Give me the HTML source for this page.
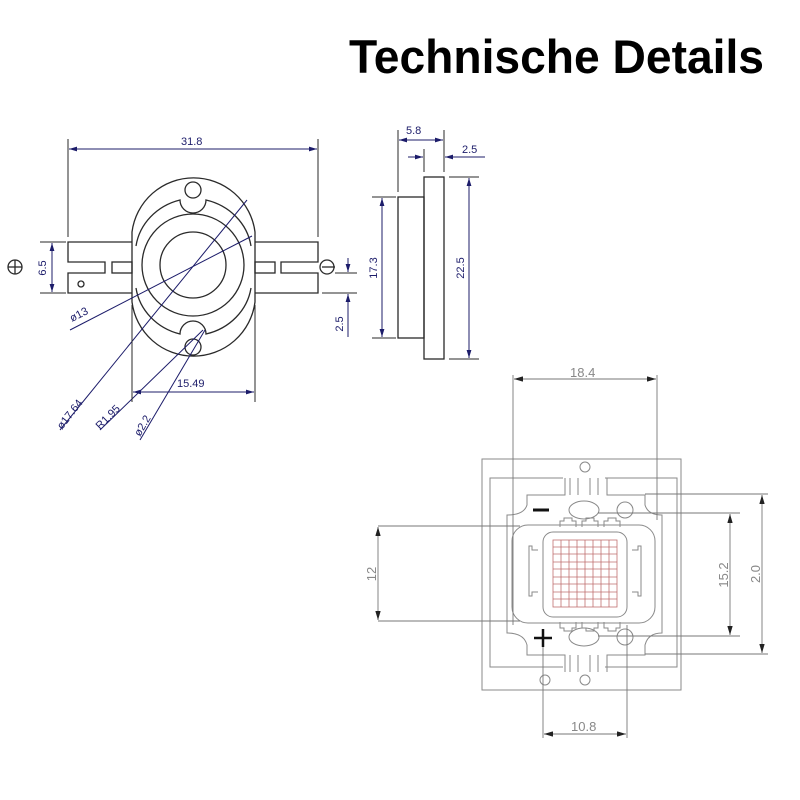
<!DOCTYPE html>
<html><head><meta charset="utf-8"><style>
html,body{margin:0;padding:0;background:#fff;width:800px;height:800px;overflow:hidden}
svg{display:block}
</style></head><body>
<svg width="800" height="800" viewBox="0 0 800 800" xmlns="http://www.w3.org/2000/svg" font-family="Liberation Sans, sans-serif">
<defs>
<marker id="a" viewBox="0 0 10 6" refX="10" refY="3" markerWidth="8" markerHeight="5" orient="auto-start-reverse"><path d="M0,0 L10,3 L0,6 Z" fill="#1c1c6a"/></marker>
<marker id="b" viewBox="0 0 10 6" refX="10" refY="3" markerWidth="11" markerHeight="6" orient="auto-start-reverse"><path d="M0,0 L10,3 L0,6 Z" fill="#222"/></marker>
</defs>
<text x="349" y="73" font-size="47" font-weight="bold" textLength="415" lengthAdjust="spacingAndGlyphs">Technische Details</text>

<g fill="none" stroke="#2a2a2a" stroke-width="1.3">
<path d="M132,302 L132,232 A62,62 0 0 1 255,232 L255,302 A62,62 0 0 1 132,302 Z"/>
<path d="M136,246 A60,56 0 0 1 180,200 A13,13 0 0 0 206,200 A60,56 0 0 1 251,246"/>
<path d="M136,288 A60,56 0 0 0 180,334 A13,13 0 0 1 206,334 A60,56 0 0 0 251,288"/>
<circle cx="193" cy="190" r="8"/>
<circle cx="193" cy="347" r="8"/>
<circle cx="193" cy="265" r="51"/>
<circle cx="193" cy="265" r="33"/>
<path d="M132,242 L68,242 L68,262 L105,262 L105,273 L68,273 L68,293 L132,293"/>
<rect x="112" y="262" width="20" height="11"/>
<circle cx="81" cy="284" r="3"/>
<path d="M255,242 L318,242 L318,262 L281,262 L281,273 L318,273 L318,293 L255,293"/>
<rect x="255" y="262" width="20" height="11"/>
<circle cx="327" cy="267" r="7"/>
<line x1="322" y1="267" x2="335" y2="267"/>
<circle cx="15" cy="267" r="7"/><line x1="8" y1="267" x2="22" y2="267"/><line x1="15" y1="260" x2="15" y2="274"/>
<rect x="398" y="197" width="26" height="141"/>
<rect x="424" y="177" width="20" height="182"/>
</g>
<g fill="none" stroke="#1c1c6a" stroke-width="1">
<line x1="68" y1="139" x2="68" y2="237" stroke="#2a2a2a"/><line x1="318" y1="139" x2="318" y2="237" stroke="#2a2a2a"/>
<line x1="69" y1="149" x2="317" y2="149" marker-start="url(#a)" marker-end="url(#a)"/>
<line x1="40" y1="242" x2="66" y2="242" stroke="#2a2a2a"/><line x1="40" y1="293" x2="66" y2="293" stroke="#2a2a2a"/>
<line x1="52" y1="243" x2="52" y2="292" marker-start="url(#a)" marker-end="url(#a)"/>
<line x1="322" y1="293" x2="357" y2="293" stroke="#2a2a2a"/><line x1="335" y1="273" x2="357" y2="273" stroke="#2a2a2a"/>
<line x1="348" y1="258" x2="348" y2="272" marker-end="url(#a)"/><line x1="348" y1="337" x2="348" y2="294" marker-end="url(#a)"/>
<line x1="70" y1="330" x2="252" y2="236"/>
<line x1="60" y1="430" x2="247" y2="200"/>
<line x1="100" y1="430" x2="203" y2="330"/>
<line x1="140" y1="440" x2="205" y2="330"/>
<line x1="132" y1="305" x2="132" y2="402" stroke="#2a2a2a"/><line x1="255" y1="305" x2="255" y2="402" stroke="#2a2a2a"/>
<line x1="133" y1="392" x2="254" y2="392" marker-start="url(#a)" marker-end="url(#a)"/>
<line x1="398" y1="130" x2="398" y2="192" stroke="#2a2a2a"/><line x1="444" y1="130" x2="444" y2="172" stroke="#2a2a2a"/>
<line x1="399" y1="140" x2="443" y2="140" marker-start="url(#a)" marker-end="url(#a)"/>
<line x1="424" y1="149" x2="424" y2="172" stroke="#2a2a2a"/>
<line x1="408" y1="157" x2="423" y2="157" marker-end="url(#a)"/><line x1="485" y1="157" x2="445" y2="157" marker-end="url(#a)"/>
<line x1="372" y1="197" x2="396" y2="197" stroke="#2a2a2a"/><line x1="372" y1="338" x2="396" y2="338" stroke="#2a2a2a"/>
<line x1="382" y1="198" x2="382" y2="337" marker-start="url(#a)" marker-end="url(#a)"/>
<line x1="449" y1="177" x2="479" y2="177" stroke="#2a2a2a"/><line x1="449" y1="359" x2="479" y2="359" stroke="#2a2a2a"/>
<line x1="469" y1="178" x2="469" y2="358" marker-start="url(#a)" marker-end="url(#a)"/>
</g>
<g fill="#1c1c6a" font-size="11">
<text x="181" y="145">31.8</text>
<text x="406" y="134">5.8</text>
<text x="462" y="153">2.5</text>
<text x="46" y="268" transform="rotate(-90 46 268)" text-anchor="middle">6.5</text>
<text x="377" y="268" transform="rotate(-90 377 268)" text-anchor="middle">17.3</text>
<text x="464" y="268" transform="rotate(-90 464 268)" text-anchor="middle">22.5</text>
<text x="343" y="324" transform="rotate(-90 343 324)" text-anchor="middle">2.5</text>
<text x="177" y="387">15.49</text>
<text x="72" y="322" transform="rotate(-27 72 322)">ø13</text>
<text x="62" y="430" transform="rotate(-52 62 430)">ø17.64</text>
<text x="100" y="430" transform="rotate(-45 100 430)">R1.95</text>
<text x="140" y="437" transform="rotate(-60 140 437)">ø2.2</text>
</g>

<g fill="none" stroke="#8a8a8a" stroke-width="1">
<rect x="482" y="459" width="199" height="231"/>
<path d="M563,478 L490,478 L490,667 L563,667 M605,478 L677,478 L677,667 L605,667"/>
<path d="M565,478 L565,495 L527,495 L527,505 Q524,515 507,515 L507,633 Q524,633 527,645 L527,655 L565,655 L565,672"/>
<path d="M607,478 L607,495 L645,495 L645,505 Q648,515 662,515 L662,633 Q648,633 645,645 L645,655 L607,655 L607,672"/>
<line x1="570" y1="478" x2="570" y2="495"/><line x1="578" y1="478" x2="578" y2="495"/><line x1="590" y1="478" x2="590" y2="495"/><line x1="598" y1="478" x2="598" y2="495"/>
<line x1="570" y1="655" x2="570" y2="672"/><line x1="578" y1="655" x2="578" y2="672"/><line x1="590" y1="655" x2="590" y2="672"/><line x1="598" y1="655" x2="598" y2="672"/>
<rect x="512" y="525" width="143" height="98" rx="16"/>
<rect x="543" y="532" width="84" height="85" rx="10"/>
<path d="M560,527 v-6 h4 v-3 h8 v3 h4 v6 M582,527 v-6 h4 v-3 h8 v3 h4 v6 M604,527 v-6 h4 v-3 h8 v3 h4 v6"/>
<path d="M560,622 v6 h4 v3 h8 v-3 h4 v-6 M582,622 v6 h4 v3 h8 v-3 h4 v-6 M604,622 v6 h4 v3 h8 v-3 h4 v-6"/>
<path d="M538,550 h-6 v-4 h-3 v50 h3 v-4 h6 M632,550 h6 v-4 h3 v50 h-3 v-4 h-6"/>
<ellipse cx="584" cy="510" rx="15" ry="9"/><ellipse cx="584" cy="637" rx="15" ry="9"/>
<circle cx="625" cy="510" r="8"/><circle cx="625" cy="637" r="8"/>
<circle cx="585" cy="467" r="5"/><circle cx="545" cy="680" r="5"/><circle cx="585" cy="680" r="5"/>
</g>
<g stroke="#c07070" stroke-width="0.8" fill="none">
<rect x="553" y="540" width="64" height="67"/>
<path d="M561,540v67M569,540v67M577,540v67M585,540v67M593,540v67M601,540v67M609,540v67"/>
<path d="M553,547h64M553,554h64M553,562h64M553,569h64M553,577h64M553,584h64M553,592h64M553,599h64"/>
</g>
<g stroke="#777" stroke-width="0.9" fill="none">
<line x1="513" y1="375" x2="513" y2="625"/><line x1="657" y1="375" x2="657" y2="520"/>
<line x1="514" y1="379" x2="656" y2="379" marker-start="url(#b)" marker-end="url(#b)"/>
<line x1="378" y1="526" x2="520" y2="526"/><line x1="378" y1="621" x2="520" y2="621"/>
<line x1="378" y1="527" x2="378" y2="620" marker-start="url(#b)" marker-end="url(#b)"/>
<line x1="598" y1="513" x2="740" y2="513"/><line x1="598" y1="636" x2="740" y2="636"/>
<line x1="730" y1="514" x2="730" y2="635" marker-start="url(#b)" marker-end="url(#b)"/>
<line x1="645" y1="494" x2="768" y2="494"/><line x1="645" y1="654" x2="768" y2="654"/>
<line x1="762" y1="495" x2="762" y2="653" marker-start="url(#b)" marker-end="url(#b)"/>
<line x1="543" y1="630" x2="543" y2="738"/><line x1="627" y1="625" x2="627" y2="738"/>
<line x1="544" y1="734" x2="626" y2="734" marker-start="url(#b)" marker-end="url(#b)"/>
</g>
<g fill="#888" font-size="13">
<text x="570" y="377">18.4</text>
<text x="571" y="731">10.8</text>
<text x="376" y="574" transform="rotate(-90 376 574)" text-anchor="middle">12</text>
<text x="728" y="575" transform="rotate(-90 728 575)" text-anchor="middle">15.2</text>
<text x="760" y="574" transform="rotate(-90 760 574)" text-anchor="middle">2.0</text>
</g>
<line x1="533" y1="510" x2="549" y2="510" stroke="#111" stroke-width="3"/>
<line x1="534" y1="638" x2="552" y2="638" stroke="#111" stroke-width="2.5"/>
<line x1="543" y1="629" x2="543" y2="647" stroke="#111" stroke-width="2.5"/>
</svg>
</body></html>
